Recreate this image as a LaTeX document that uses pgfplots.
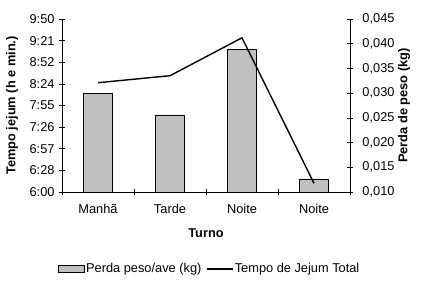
\documentclass[border=0pt]{standalone}
\usepackage{pgfplots}
\pgfplotsset{compat=1.18}
\usepackage{fontspec}
\setmainfont{Liberation Sans}
\definecolor{bargray}{RGB}{192,192,192}
\begin{document}
\fontsize{12.8}{15}\selectfont
\begin{tikzpicture}
\pgfplotsset{
  every axis/.append style={
    scale only axis, width=288pt, height=173pt,
    xmin=-0.5, xmax=3.5,
    font=\fontsize{12.8}{15}\selectfont,
    tick align=center, major tick length=6pt, minor tick length=6pt,
    tick style={black, line width=0.6pt},
    axis line style={line width=0.6pt},
    /pgf/number format/assume math mode=true,
    clip=false,
  },
}
\begin{axis}[
  axis y line*=right, axis x line*=bottom,
  ymin=0.010, ymax=0.045,
  ytick={0.010,0.015,0.020,0.025,0.030,0.035,0.040,0.045},
  scaled y ticks=false,
  yticklabel style={xshift=5pt, /pgf/number format/.cd, fixed, fixed zerofill, precision=3, use comma},
  xtick={0,1,2,3}, xticklabels={Manhã,Tarde,Noite,Noite},
  xticklabel style={yshift=-5pt},
  major x tick style={draw=none},
  minor xtick={-0.5,0.5,1.5,2.5,3.5},
  xlabel={\textbf{Turno}},
  xlabel style={at={(axis description cs:0.5,-0.237)}, anchor=center},
  ylabel={\textbf{Perda de peso (kg)}},
  ylabel style={at={(axis description cs:1.1875,0.5)}, anchor=center, rotate=0},
]
\addplot[ybar, bar width=0.4, fill=bargray, draw=black, line width=0.6pt]
  coordinates {(0,0.0300) (1,0.0256) (2,0.0389) (3,0.0126)};
\end{axis}
\begin{axis}[
  axis y line*=left, axis x line=none,
  ymin=360, ymax=590,
  ytick={360,388.75,417.5,446.25,475,503.75,532.5,561.25,590},
  yticklabels={6:00,6:28,6:57,7:26,7:55,8:24,8:52,9:21,9:50},
  ylabel={\textbf{Tempo jejum (h e min.)}},
  ylabel style={at={(axis description cs:-0.1736,0.5)}, anchor=center},
  legend columns=2,
  legend style={at={(axis description cs:0.512,-0.445)}, anchor=center,
    draw=none, fill=none, inner sep=0pt,
    nodes={inner sep=1.5pt},
    /tikz/every even column/.append style={column sep=3pt}},
]
\addlegendimage{legend image code/.code={\draw[fill=bargray, draw=black, line width=0.6pt] (0pt,-3pt) rectangle (26pt,3.5pt);}}
\addlegendentry{Perda peso/ave (kg)}
\addplot[black, line width=1.4pt, mark=none,
  legend image code/.code={\draw[black, line width=1.4pt] (0pt,0pt) -- (26pt,0pt);}]
  coordinates {(0,505.3) (1,514.6) (2,565) (3,371.6)};
\addlegendentry{Tempo de Jejum Total}
\end{axis}
\pgfresetboundingbox
\path[use as bounding box] (-62pt,-89pt) rectangle (362pt,192pt);
\end{tikzpicture}
\end{document}
